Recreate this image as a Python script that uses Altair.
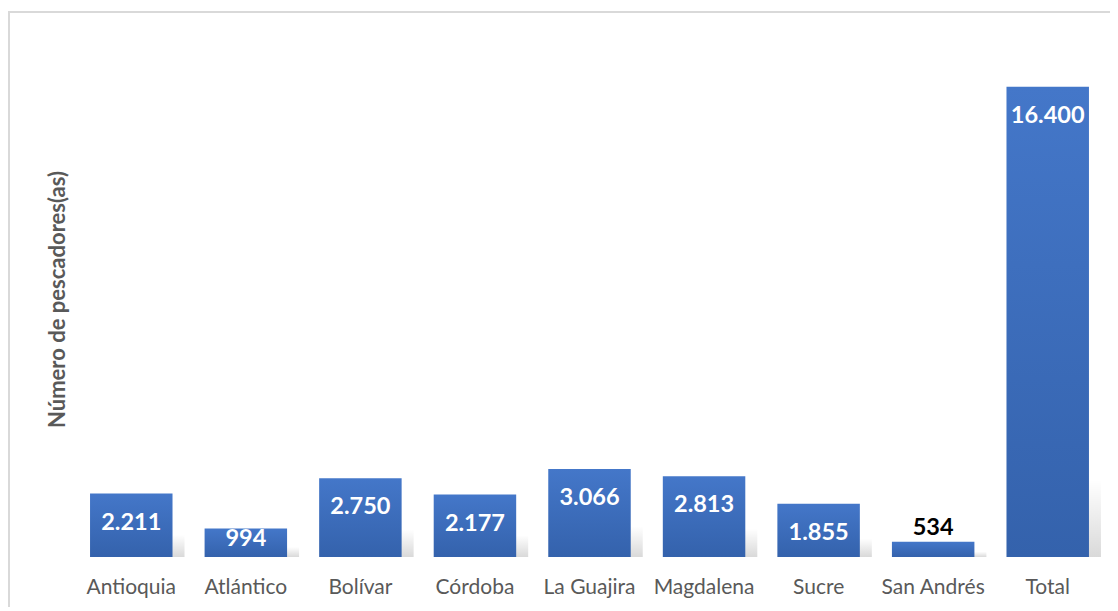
import altair as alt
import pandas as pd

categories = ["Antioquia", "Atlántico", "Bolívar", "Córdoba", "La Guajira",
              "Magdalena", "Sucre", "San Andrés", "Total"]
values = [2211, 994, 2750, 2177, 3066, 2813, 1855, 534, 16400]
labels = ["2.211", "994", "2.750", "2.177", "3.066", "2.813", "1.855", "534", "16.400"]

df = pd.DataFrame({"cat": categories, "val": values, "lab": labels})

W, H = 1031, 516
FONT = "Lato"

x = alt.X("cat:N", sort=categories, title=None,
          scale=alt.Scale(paddingInner=0.28, paddingOuter=0.14),
          axis=alt.Axis(labelAngle=0, labelFont=FONT, labelFontSize=21,
                        labelColor="#595959", ticks=False, domain=False,
                        labelPadding=19, grid=False))
yaxis = alt.Axis(labels=False, ticks=False, domain=False, grid=False,
                 titleFont=FONT, titleFontSize=22, titleColor="#595959",
                 titleFontWeight="bold", titlePadding=5)
yscale = alt.Scale(domain=[0, 18000], nice=False)
y = alt.Y("val:Q", title="Número de pescadores(as)", scale=yscale, axis=yaxis)

base = alt.Chart(df)

shadow = base.transform_calculate(
    sh="min(datum.val * 0.35, 2700)"
).mark_bar(
    xOffset=12,
    color=alt.Gradient(gradient="linear", x1=0, y1=0, x2=0, y2=1,
                       stops=[alt.GradientStop(color="rgba(0,0,0,0)", offset=0),
                              alt.GradientStop(color="rgba(0,0,0,0.15)", offset=1)])
).encode(x=x, y=alt.Y("sh:Q", title="Número de pescadores(as)", scale=yscale, axis=yaxis))

bars = base.mark_bar(
    color=alt.Gradient(gradient="linear", x1=0, y1=0, x2=0, y2=1,
                       stops=[alt.GradientStop(color="#4477C9", offset=0),
                              alt.GradientStop(color="#3462AC", offset=1)])
).encode(x=x, y=y)

txt_big = base.transform_filter("datum.val >= 1500").mark_text(
    font=FONT, fontSize=23.5, fontWeight="bold", color="white", baseline="middle", dy=29
).encode(x=x, y=alt.Y("val:Q"), text="lab:N")

txt_mid = base.transform_filter("datum.val >= 700 && datum.val < 1500").mark_text(
    font=FONT, fontSize=23.5, fontWeight="bold", color="white", baseline="middle", dy=10
).encode(x=x, y=alt.Y("val:Q"), text="lab:N")

txt_out = base.transform_filter("datum.val < 700").mark_text(
    font=FONT, fontSize=23.5, fontWeight="bold", color="black", baseline="middle", dy=-14
).encode(x=x, y=alt.Y("val:Q"), text="lab:N")

one = pd.DataFrame({"a": [0]})
frame_top = alt.Chart(one).mark_rule(color="#d9d9d9", strokeWidth=2).encode(
    x=alt.value(-65), x2=alt.value(W + 40), y=alt.value(-29))
frame_left = alt.Chart(one).mark_rule(color="#d9d9d9", strokeWidth=2).encode(
    x=alt.value(-65), y=alt.value(-30), y2=alt.value(H + 80))

chart = alt.layer(frame_top, frame_left, shadow, bars, txt_big, txt_mid, txt_out).properties(
    width=W, height=H,
    padding={"left": 66, "top": 33, "right": 5, "bottom": 50},
    autosize=alt.AutoSizeParams(type="none"),
    background="white"
).configure_view(stroke=None)

chart.save("out.html", embed_options={"renderer": "svg", "actions": False})
